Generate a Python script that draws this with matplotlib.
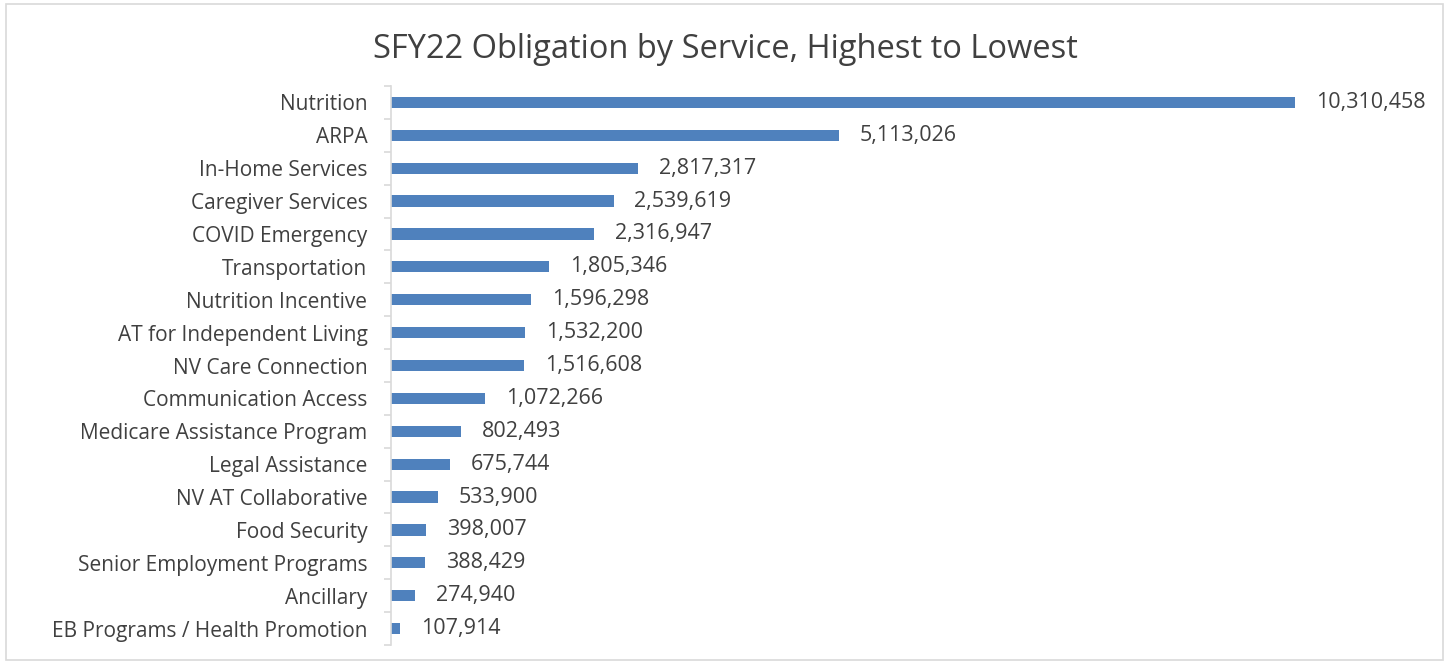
import matplotlib
matplotlib.use("Agg")
import matplotlib.pyplot as plt
import numpy as np
from matplotlib.patches import Rectangle

categories = ["Nutrition", "ARPA", "In-Home Services", "Caregiver Services", "COVID Emergency",
              "Transportation", "Nutrition Incentive", "AT for Independent Living",
              "NV Care Connection", "Communication Access", "Medicare Assistance Program",
              "Legal Assistance", "NV AT Collaborative", "Food Security",
              "Senior Employment Programs", "Ancillary", "EB Programs / Health Promotion"]
values = [10310458, 5113026, 2817317, 2539619, 2316947, 1805346, 1596298, 1532200,
          1516608, 1072266, 802493, 675744, 533900, 398007, 388429, 274940, 107914]
title = "SFY22 Obligation by Service, Highest to Lowest"

plt.rcParams['font.family'] = ['Open Sans', 'DejaVu Sans']
text_color = '#404040'
bar_color = '#4F81BD'

fig = plt.figure(figsize=(14.49, 6.64), dpi=100)
fig.patches.append(Rectangle((6/1449, 4/664), 1 - 12/1449, 1 - 8/664, transform=fig.transFigure,
                             fill=False, edgecolor='#D9D9D9', linewidth=1.2))

ax = fig.add_axes([391/1449, 19/664, 1008/1449, 559/664])
n = len(categories)
y = np.arange(n)
ax.barh(y, values, height=0.34, color=bar_color)
ax.set_ylim(n - 0.5, -0.5)
ax.set_xlim(0, 11.5e6)

ax.set_yticks(y)
ax.set_yticklabels(categories, fontsize=15, color=text_color)
ax.tick_params(axis='y', which='major', length=0, pad=17)
ax.set_yticks(np.arange(n + 1) - 0.5, minor=True)
ax.tick_params(axis='y', which='minor', length=5, color='#D9D9D9', width=1.2)
ax.set_xticks([])
for s in ['top', 'right', 'bottom']:
    ax.spines[s].set_visible(False)
ax.spines['left'].set_color('#D9D9D9')
ax.spines['left'].set_linewidth(1.2)

for yi, v in zip(y, values):
    ax.annotate(f"{v:,}", (v, yi), xytext=(15, 0), textcoords='offset points',
                va='center', ha='left', fontsize=15.5, color=text_color)

fig.text(0.5 * (373 + 1078) / 1449, 1 - 50/664, title, ha='center', va='center',
         fontsize=23.5, color=text_color)

fig.savefig("out.png", dpi=100)
